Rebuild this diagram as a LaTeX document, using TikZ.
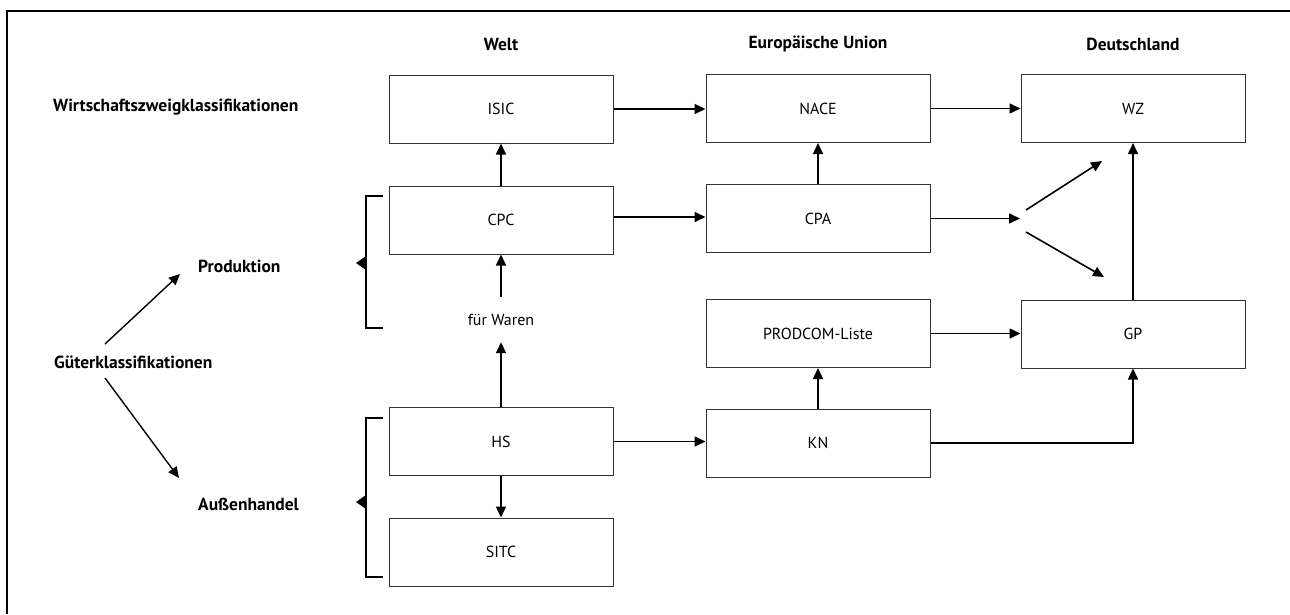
\documentclass[tikz,border=0pt]{standalone}
\usepackage{fontspec}
\setmainfont{PT Sans}
\usetikzlibrary{arrows.meta}
\begin{document}
\begin{tikzpicture}[x=1pt,y=-1pt,
  box/.style={draw=black!80, line width=1pt, minimum width=224pt, minimum height=68pt, inner sep=0pt, font=\fontsize{16}{19}\selectfont},
  lbl/.style={font=\bfseries\fontsize{17.5}{21}\selectfont, inner sep=0pt},
  arr/.style={-{Triangle[length=11pt,width=10pt]}, line width=1.6pt},
  brk/.style={line width=1.6pt}]
\useasboundingbox (0,0) rectangle (1290,614);
\draw[line width=2pt] (7,614) -- (7,11) -- (1290,11);
% headers
\node[lbl] (hW) at (501,44) {Welt};
\node[lbl] (hE) at (818,44) {Europäische Union};
\node[lbl] (hD) at (1133,44) {Deutschland};
% left labels
\node[lbl, anchor=west] (wzk) at (53,107) {Wirtschaftszweigklassifikationen};
\node[lbl, anchor=west] (prod) at (198,266) {Produktion};
\node[lbl, anchor=west] (gk) at (54,362) {Güterklassifikationen};
\node[lbl, anchor=west] (aus) at (198,504) {Außenhandel};
% boxes
\node[box] (ISIC) at (501,109) {ISIC};
\node[box] (NACE) at (818,108.5) {NACE};
\node[box] (WZ) at (1133,108.5) {WZ};
\node[box] (CPC) at (501,220) {CPC};
\node[box] (CPA) at (818,218.5) {CPA};
\node[box] (PRODCOM) at (818,333.5) {PRODCOM-Liste};
\node[box] (GP) at (1133,334) {GP};
\node[box] (KN) at (818,443) {KN};
\node[box] (HS) at (501,441.5) {HS};
\node[box] (SITC) at (501,552) {SITC};
\node[font=\fontsize{16}{19}\selectfont, minimum height=45pt, inner sep=0pt] (fuer) at (501,319.5) {für Waren};
% arrows
\draw[arr] (ISIC.east) -- (ISIC.east -| NACE.west);
\draw[arr] (NACE.east) -- (NACE.east -| WZ.west);
\draw[arr] (CPC.north) -- (ISIC.south);
\draw[arr] (CPA.north) -- (NACE.south);
\draw[arr] (fuer.north) -- (CPC.south);
\draw[arr] (HS.north) -- (fuer.south);
\draw[arr] ([yshift=3pt]CPC.east) -- ([yshift=3pt]CPC.east -| CPA.west);
\coordinate (split) at (1020,218.5);
\coordinate (s1) at (1026,210);
\coordinate (t1) at (1102,161);
\coordinate (s2) at (1026,232);
\coordinate (t2) at (1104,277);
\draw[arr] (CPA.east) -- (CPA.east -| split);
\draw[arr] (s1) -- (t1);
\draw[arr] (s2) -- (t2);
\draw[arr] (GP.north) -- (WZ.south);
\draw[arr] (PRODCOM.east) -- (PRODCOM.east -| GP.west);
\draw[arr] (KN.east) -| (GP.south);
\draw[arr] (KN.north) -- (PRODCOM.south);
\draw[arr] (HS.east) -- (HS.east -| KN.west);
\draw[arr] (HS.south) -- (SITC.north);
% Gueterklassifikationen arrows
\coordinate (g1) at (105,344);
\coordinate (g2) at (105,378);
\coordinate (p1) at (180,274);
\coordinate (a1) at (179,478);
\draw[arr, line width=1.4pt] (g1) -- (p1);
\draw[arr, line width=1.4pt] (g2) -- (a1);
% brackets
\draw[brk] (383,196) -- (366,196) -- (366,328) -- (383,328);
\fill (366,256) -- (356,263) -- (366,270) -- cycle;
\draw[brk] (383,418) -- (366,418) -- (366,577) -- (383,577);
\fill (366,495) -- (356,502) -- (366,509) -- cycle;
\end{tikzpicture}
\end{document}
